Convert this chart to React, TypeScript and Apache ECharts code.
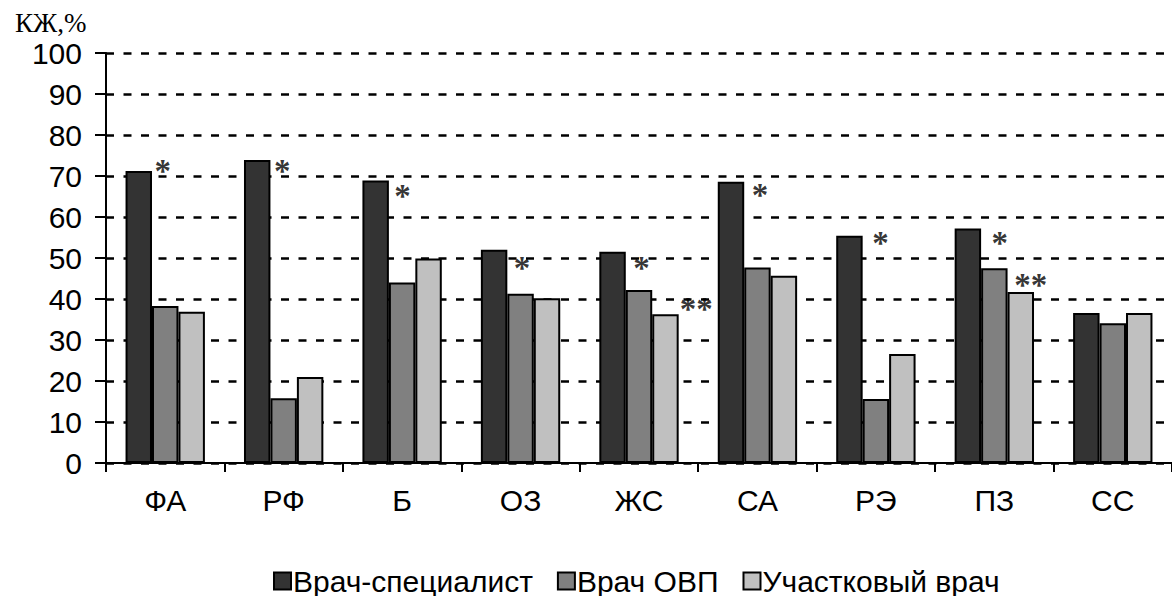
import React, { useEffect, useRef } from "react";
import * as echarts from "echarts";

const categories = ["ФА", "РФ", "Б", "ОЗ", "ЖС", "СА", "РЭ", "ПЗ", "СС"];
const seriesNames = ["Врач-специалист", "Врач ОВП", "Участковый врач"];
const specialist = [71.2, 73.9, 68.9, 52.0, 51.5, 68.6, 55.4, 57.2, 36.6];
const ovp = [38.3, 15.8, 44.0, 41.3, 42.2, 47.7, 15.6, 47.5, 34.1];
const district = [36.9, 21.0, 49.9, 40.2, 36.3, 45.7, 26.6, 41.7, 36.6];
const yTicks = [0, 10, 20, 30, 40, 50, 60, 70, 80, 90, 100];

// significance markers: position in category units (0..9) and value level
const starText = ["*", "*", "*", "*", "*", "**", "*", "*", "*", "**"];
const starX = [0.479, 1.487, 2.504, 3.513, 4.521, 4.983, 5.521, 6.538, 7.546, 7.807];
const starY = [72.7, 72.7, 66.6, 49.0, 49.0, 39.0, 66.8, 55.1, 55.1, 44.9];

const colors = ["#333333", "#808080", "#c0c0c0"];
const sans = "'Liberation Sans', Arial, sans-serif";
const serif = "'Liberation Serif', 'Times New Roman', serif";

export default function App() {
  const ref = useRef<HTMLDivElement>(null);
  useEffect(() => {
    if (!ref.current) return;
    const chart = echarts.init(ref.current, undefined, { renderer: "svg" });
    const values = [specialist, ovp, district];
    chart.setOption({
      animation: false,
      backgroundColor: "#ffffff",
      title: {
        text: "КЖ,%",
        left: 10,
        top: 4,
        textStyle: { fontFamily: serif, fontSize: 27, fontWeight: "normal", color: "#000" },
      },
      legend: {
        data: seriesNames,
        left: 268,
        top: 561,
        icon: "rect",
        itemWidth: 17,
        itemHeight: 17,
        itemGap: 24,
        itemStyle: { borderColor: "#000", borderWidth: 2 },
        textStyle: { fontFamily: sans, fontSize: 30, color: "#000", padding: [0, 0, 0, -3] },
      },
      grid: { left: 106, top: 53, width: 1071, height: 410 },
      xAxis: [
        {
          type: "category",
          data: categories,
          axisLine: { lineStyle: { color: "#000", width: 2 } },
          axisTick: { show: true, length: 9, lineStyle: { color: "#000", width: 2 } },
          axisLabel: { fontFamily: sans, fontSize: 30, color: "#000", margin: 22 },
          splitLine: { show: false },
        },
        { type: "value", min: 0, max: 9, show: false },
      ],
      yAxis: {
        type: "value",
        min: yTicks[0],
        max: yTicks[yTicks.length - 1],
        interval: 10,
        axisLine: { show: true, lineStyle: { color: "#000", width: 2 } },
        axisTick: { show: true, length: 11, lineStyle: { color: "#000", width: 2 } },
        axisLabel: { fontFamily: sans, fontSize: 30, color: "#000", margin: 24 },
        splitLine: { show: true, lineStyle: { color: "#000", width: 2.5, type: [8, 9.5] } },
      },
      series: [
        ...values.map((v, i) => ({
          name: seriesNames[i],
          type: "bar",
          data: v,
          barGap: "0%",
          barCategoryGap: "33%",
          itemStyle: { color: colors[i], borderColor: "#000", borderWidth: 2 },
        })),
        {
          type: "scatter",
          xAxisIndex: 1,
          symbolSize: 0,
          silent: true,
          data: starX.map((x, i) => [x, starY[i]]),
          label: {
            show: true,
            position: "inside",
            offset: [0, 6],
            formatter: (p: any) => starText[p.dataIndex],
            fontFamily: serif,
            fontSize: 33,
            fontWeight: "bold",
            color: "#000",
          },
          z: 5,
        },
      ],
    });
    return () => chart.dispose();
  }, []);
  return (
    <div
      ref={ref}
      style={{ position: "absolute", left: 0, top: 0, width: 1172, height: 596 }}
    />
  );
}
